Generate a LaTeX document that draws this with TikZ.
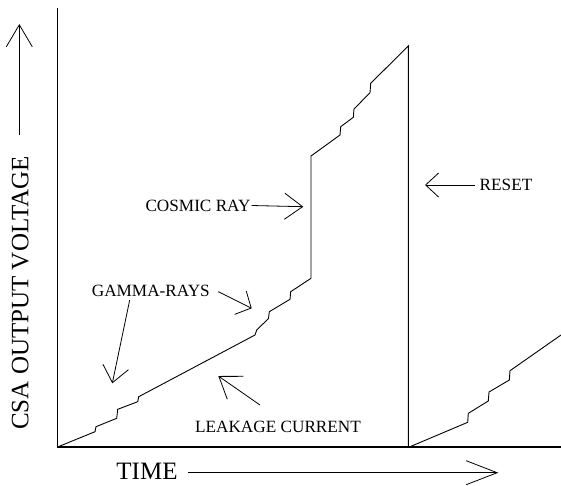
\documentclass[tikz,border=0pt]{standalone}
\usepackage{fontspec}
\setmainfont{Liberation Serif}
\usepackage{tikz}
\usetikzlibrary{arrows,positioning,calc,arrows.meta}
\tikzset{>={Straight Barb[length=16pt,width=26pt]}}
\def\labelfont{\fontsize{17.2}{19}\selectfont}
\def\axisfont{\fontsize{25}{28}\selectfont}
\def\resetx{408.3}
\def\basey{447}
\tikzset{
  lbl/.style={inner sep=1pt,font=\labelfont},
  axlbl/.style={inner sep=1pt,font=\axisfont},
  pointer/.style={->,line width=0.8pt},
  signal/.style={line width=0.9pt,line join=miter},
  axisline/.style={line width=1.2pt}
}
\begin{document}
\begin{tikzpicture}[x=1pt,y=-1pt]
  \useasboundingbox (0,0) rectangle (561,485);

  %% axes
  \coordinate (orig) at (57.5,\basey);
  \draw[axisline] (57.5,8) -- (orig) -- (561,\basey);

  %% charge ramp up to the reset
  \draw[signal] (orig) -- (95,431.7) -- (96,426.7) -- (116.7,418.3) -- (117.7,409.3)
    -- (137.7,401.7) -- (138.7,396.7) -- (255,335) -- (256.7,330) -- (268.5,318.5)
    -- (269.3,311.7) -- (290,299.3) -- (290.7,291.7) -- (311,278.3) -- (311,156)
    -- (340,135) -- (340.7,126.7) -- (353.3,117.3) -- (354,109) -- (370,92.7)
    -- (370.7,83.3) -- (\resetx,46) -- (\resetx,\basey);
  %% ramp after the reset
  \draw[signal] (409.3,\basey) -- (467.7,422.3) -- (468.3,413.3) -- (488.3,401) -- (489,392)
    -- (509.3,380) -- (510,370.7) -- (561,335);

  %% axis labels
  \node[axlbl,rotate=90] (volt) at (20.3,293) {CSA OUTPUT VOLTAGE};
  \coordinate (volttail) at (19.3,135);
  \coordinate (volttip) at (19.3,24);
  \draw[->,line width=0.8pt,>={Straight Barb[length=22pt,width=26pt]}] (volttail) -- (volttip);

  \node[axlbl] (time) at (147,471) {TIME};
  \coordinate (timetail) at (188,472.7);
  \coordinate (timetip) at (498.3,472.7);
  \draw[->,line width=0.8pt,>={Straight Barb[length=31pt,width=24pt]}] (timetail) -- (timetip);

  %% event labels
  \node[lbl] (cosmic) at (198,205.5) {COSMIC RAY};
  \coordinate (cosmictip) at (303.3,206.7);
  \draw[pointer,>={Straight Barb[length=18pt,width=26pt]}] (cosmic.east) -- (cosmictip);

  \node[lbl] (reset) at (506,185) {RESET};
  \coordinate (resettail) at (475,185);
  \coordinate (resettip) at (425,185);
  \draw[pointer,>={Straight Barb[length=13pt,width=24pt]}] (resettail) -- (resettip);

  \node[lbl] (gamma) at (150.8,290.8) {GAMMA-RAYS};
  \coordinate (gammaA) at (129.7,300);
  \coordinate (gammaAtip) at (112.3,383.3);
  \coordinate (gammaB) at (218.3,291.7);
  \coordinate (gammaBtip) at (251.7,308.3);
  \draw[pointer] (gammaA) -- (gammaAtip);
  \draw[pointer,>={Straight Barb[length=12pt,width=26pt]}] (gammaB) -- (gammaBtip);

  \node[lbl] (leak) at (278,426.7) {LEAKAGE CURRENT};
  \coordinate (leaktail) at (260,405);
  \coordinate (leaktip) at (218.3,376);
  \draw[pointer,>={Straight Barb[length=20pt,width=28pt]}] (leaktail) -- (leaktip);
\end{tikzpicture}
\end{document}
